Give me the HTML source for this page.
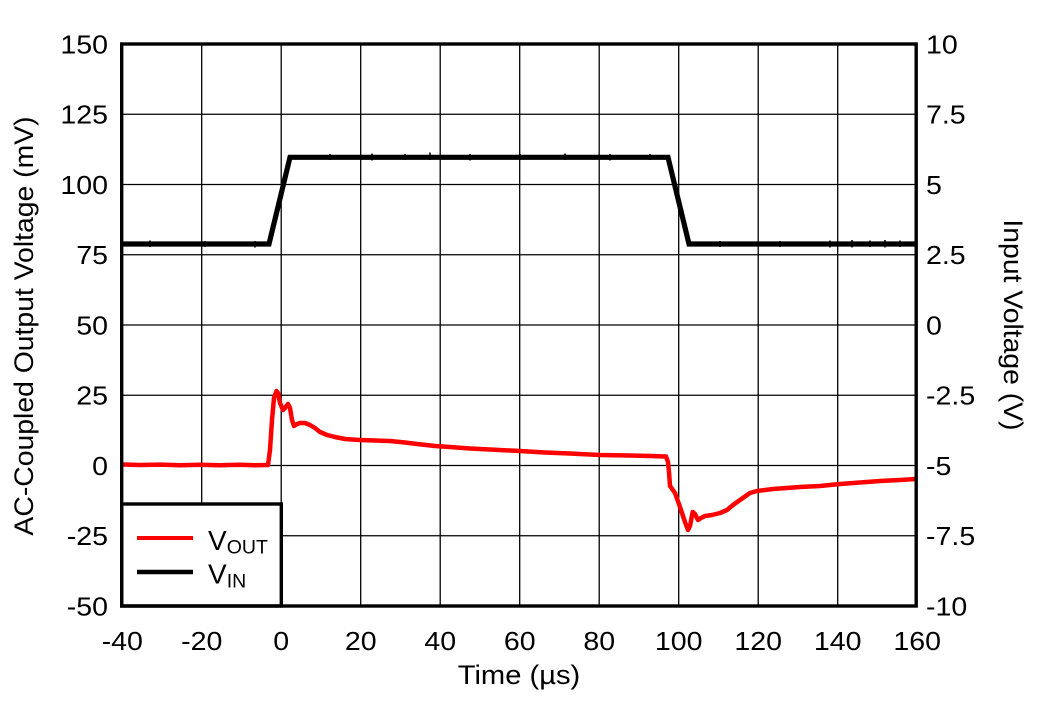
<!DOCTYPE html>
<html>
<head>
<meta charset="utf-8">
<style>
  html, body { margin: 0; padding: 0; background: #fff; }
  svg { display: block; }
  text { font-family: "Liberation Sans", Arial, sans-serif; fill: #000; }
</style>
</head>
<body>
<svg width="1038" height="701" viewBox="0 0 1038 701" xmlns="http://www.w3.org/2000/svg">
  <rect x="0" y="0" width="1038" height="701" fill="#fff"/>

  <!-- grid lines -->
  <g stroke="#000" stroke-width="1.3" fill="none">
    <line x1="201.7" y1="44" x2="201.7" y2="606"/>
    <line x1="281.2" y1="44" x2="281.2" y2="606"/>
    <line x1="360.7" y1="44" x2="360.7" y2="606"/>
    <line x1="440.2" y1="44" x2="440.2" y2="606"/>
    <line x1="519.7" y1="44" x2="519.7" y2="606"/>
    <line x1="599.2" y1="44" x2="599.2" y2="606"/>
    <line x1="678.7" y1="44" x2="678.7" y2="606"/>
    <line x1="758.2" y1="44" x2="758.2" y2="606"/>
    <line x1="837.7" y1="44" x2="837.7" y2="606"/>

    <line x1="122" y1="114.25" x2="916" y2="114.25"/>
    <line x1="122" y1="184.5" x2="916" y2="184.5"/>
    <line x1="122" y1="254.75" x2="916" y2="254.75"/>
    <line x1="122" y1="325" x2="916" y2="325"/>
    <line x1="122" y1="395.25" x2="916" y2="395.25"/>
    <line x1="122" y1="465.5" x2="916" y2="465.5"/>
    <line x1="122" y1="535.75" x2="916" y2="535.75"/>
  </g>

  <!-- VIN (black) -->
  <path fill="none" stroke="#000" stroke-width="5.2" stroke-linejoin="miter"
    d="M122,244 L269,244 L290,157.3 L668,157.3 L689,244 L916,244"/>
  <!-- small noise spikes on VIN -->
  <g stroke="#000" stroke-width="1.6">
    <line x1="150" y1="240.5" x2="150" y2="247"/>
    <line x1="205" y1="241" x2="205" y2="247"/>
    <line x1="255" y1="241" x2="255" y2="247.5"/>
    <line x1="330" y1="154" x2="330" y2="160"/>
    <line x1="372" y1="153.5" x2="372" y2="160.5"/>
    <line x1="405" y1="154" x2="405" y2="160"/>
    <line x1="430" y1="152.5" x2="430" y2="160"/>
    <line x1="470" y1="154" x2="470" y2="160.5"/>
    <line x1="520" y1="154" x2="520" y2="160"/>
    <line x1="565" y1="153.5" x2="565" y2="160"/>
    <line x1="610" y1="154" x2="610" y2="160.5"/>
    <line x1="650" y1="154" x2="650" y2="160"/>
    <line x1="720" y1="241" x2="720" y2="247"/>
    <line x1="780" y1="241" x2="780" y2="247"/>
    <line x1="830" y1="240.5" x2="830" y2="247.5"/>
    <line x1="852" y1="240" x2="852" y2="247.5"/>
    <line x1="870" y1="240.5" x2="870" y2="247"/>
    <line x1="885" y1="240" x2="885" y2="247.5"/>
    <line x1="900" y1="240.5" x2="900" y2="247"/>
  </g>

  <!-- VOUT (red) -->
  <path fill="none" stroke="#ff0000" stroke-width="4.5" stroke-linejoin="round"
    d="M122,464.5 L140,465 L160,464.6 L180,465.2 L200,464.8 L220,465.3 L240,464.7 L255,465.2 L268,465
       L270,450 L272,420 L274,398 L276.5,391 L278,393 L280,403 L283,410 L285,408 L288,404 L290,408 L292,420 L294,426 L297,424 L300,423 L305,423 L310,425 L315,428 L320,432 L327,435 L335,437 L345,439 L360,440 L375,440.5 L390,441 L405,442.5 L417,444 L435,446 L450,447
       L470,448.5 L490,449.5 L520,451 L545,452.5 L570,453.5 L600,455 L630,455.5 L650,456 L666,456.5
       L668,462 L669,472 L670,486 L675,493 L680,507 L685,522 L688,530 L690,526 L692.7,512 L695,514 L698,520 L701,518 L705,516 L712,515 L720,513 L727,510 L733,505 L740,500 L750,493 L757,491 L773,489 L800,487 L820,486 L840,484 L860,482.5 L880,481 L900,480 L916,479"/>

  <!-- legend -->
  <rect x="121.7" y="504" width="159.6" height="102" fill="#fff" stroke="#000" stroke-width="3.4"/>
  <line x1="137" y1="538" x2="193" y2="538" stroke="#ff0000" stroke-width="4"/>
  <line x1="137" y1="572" x2="193" y2="572" stroke="#000" stroke-width="4.5"/>
  <text x="208" y="550" font-size="28">V<tspan font-size="19.5" dy="3.5">OUT</tspan></text>
  <text x="208" y="583.5" font-size="28">V<tspan font-size="19.5" dy="4">IN</tspan></text>

  <!-- plot border -->
  <rect x="121.7" y="44" width="794.5" height="562" fill="none" stroke="#000" stroke-width="3.4"/>

  <!-- left tick labels -->
  <g font-size="25.5" text-anchor="end">
    <text transform="translate(108,53.3) scale(1.12,1)">150</text>
    <text transform="translate(108,123.55) scale(1.12,1)">125</text>
    <text transform="translate(108,193.8) scale(1.12,1)">100</text>
    <text transform="translate(108,264.05) scale(1.12,1)">75</text>
    <text transform="translate(108,334.3) scale(1.12,1)">50</text>
    <text transform="translate(108,404.55) scale(1.12,1)">25</text>
    <text transform="translate(108,474.8) scale(1.12,1)">0</text>
    <text transform="translate(108,545.05) scale(1.12,1)">-25</text>
    <text transform="translate(108,615.3) scale(1.12,1)">-50</text>
  </g>

  <!-- right tick labels -->
  <g font-size="25.5" text-anchor="start">
    <text transform="translate(926,53.3) scale(1.12,1)">10</text>
    <text transform="translate(926,123.55) scale(1.12,1)">7.5</text>
    <text transform="translate(926,193.8) scale(1.12,1)">5</text>
    <text transform="translate(926,264.05) scale(1.12,1)">2.5</text>
    <text transform="translate(926,334.3) scale(1.12,1)">0</text>
    <text transform="translate(926,404.55) scale(1.12,1)">-2.5</text>
    <text transform="translate(926,474.8) scale(1.12,1)">-5</text>
    <text transform="translate(926,545.05) scale(1.12,1)">-7.5</text>
    <text transform="translate(926,615.3) scale(1.12,1)">-10</text>
  </g>

  <!-- x tick labels -->
  <g font-size="25.5" text-anchor="middle">
    <text transform="translate(122.2,650) scale(1.12,1)">-40</text>
    <text transform="translate(201.7,650) scale(1.12,1)">-20</text>
    <text transform="translate(281.2,650) scale(1.12,1)">0</text>
    <text transform="translate(360.7,650) scale(1.12,1)">20</text>
    <text transform="translate(440.2,650) scale(1.12,1)">40</text>
    <text transform="translate(519.7,650) scale(1.12,1)">60</text>
    <text transform="translate(599.2,650) scale(1.12,1)">80</text>
    <text transform="translate(678.7,650) scale(1.12,1)">100</text>
    <text transform="translate(758.2,650) scale(1.12,1)">120</text>
    <text transform="translate(837.7,650) scale(1.12,1)">140</text>
    <text transform="translate(917.2,650) scale(1.12,1)">160</text>
  </g>

  <!-- axis titles -->
  <text font-size="26.5" text-anchor="middle" transform="translate(519,684) scale(1.1,1)">Time (µs)</text>
  <text font-size="26.5" text-anchor="middle" transform="translate(33,326) rotate(-90) scale(1.07,1)">AC-Coupled Output Voltage (mV)</text>
  <text font-size="26.5" text-anchor="middle" transform="translate(1004,325) rotate(90) scale(1.07,1)">Input Voltage (V)</text>
</svg>
</body>
</html>
